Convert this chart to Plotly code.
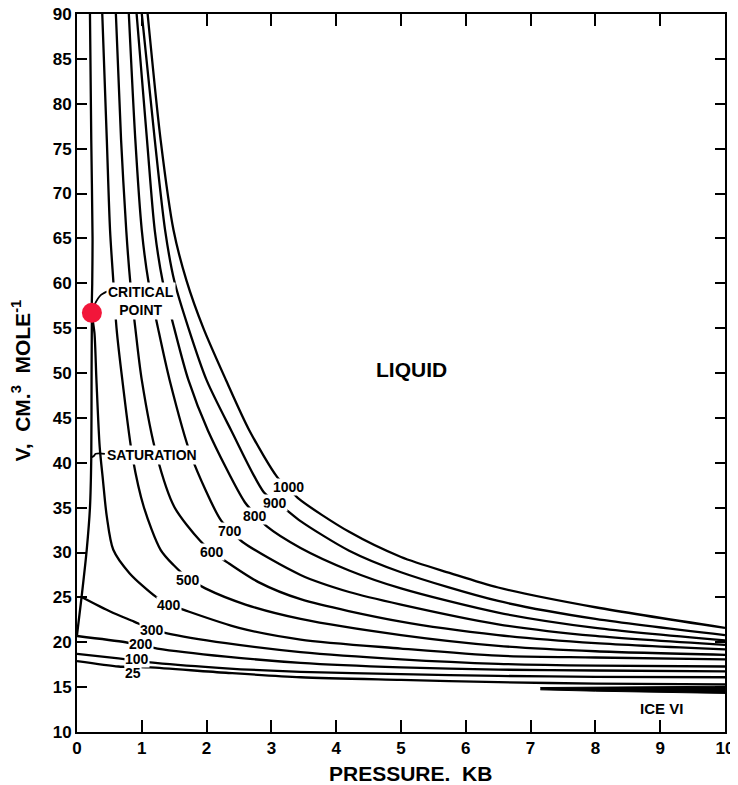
import plotly.graph_objects as go

# ---------------- data ----------------
x_ticks = [0, 1, 2, 3, 4, 5, 6, 7, 8, 9, 10]
y_ticks = [10, 15, 20, 25, 30, 35, 40, 45, 50, 55, 60, 65, 70, 75, 80, 85, 90]

sat_p = [0.0, 0.07, 0.15, 0.20, 0.22, 0.225, 0.23]
sat_v = [20.8, 25.0, 30.3, 35.0, 40.5, 50.0, 56.7]

t1000_p = [1.09, 1.29, 1.49, 1.69, 1.95, 2.30, 2.66, 3.09, 3.26, 3.42, 4.2, 5.0, 5.76, 6.5, 8.0, 10.0]
t1000_v = [90.0, 76.0, 65.9, 60.3, 55.0, 49.2, 43.6, 38.4, 37.2, 36.0, 32.3, 29.5, 27.7, 26.1, 23.9, 21.6]

t900_p = [1.00, 1.20, 1.36, 1.50, 1.72, 2.00, 2.38, 2.88, 3.06, 3.24, 3.45, 4.2, 5.0, 6.5, 8.0, 10.0]
t900_v = [90.0, 76.0, 65.9, 60.3, 55.0, 49.2, 43.6, 36.75, 35.7, 34.7, 33.5, 30.2, 27.8, 24.6, 22.6, 20.8]

t800_p = [0.92, 1.08, 1.20, 1.32, 1.50, 1.72, 2.02, 2.59, 2.76, 2.93, 3.45, 4.2, 5.0, 6.5, 8.0, 10.0]
t800_v = [90.0, 76.0, 65.9, 60.3, 55.0, 49.2, 43.6, 35.6, 34.2, 32.9, 30.5, 28.0, 26.0, 23.3, 21.6, 20.2]

t700_p = [0.80, 0.90, 1.00, 1.10, 1.25, 1.43, 1.76, 2.22, 2.38, 2.55, 3.45, 4.2, 5.0, 6.5, 8.0, 10.0]
t700_v = [90.0, 76.0, 65.9, 60.3, 55.0, 49.2, 40.8, 33.6, 32.4, 31.2, 27.5, 25.6, 24.2, 22.0, 20.7, 19.7]

t600_p = [0.60, 0.68, 0.76, 0.82, 0.90, 1.00, 1.23, 1.50, 1.90, 2.10, 2.34, 2.80, 3.45, 5.0, 6.5, 8.0, 10.0]
t600_v = [90.0, 76.0, 65.9, 60.3, 55.0, 49.2, 40.8, 35.1, 31.3, 30.0, 28.8, 26.7, 24.8, 22.3, 20.8, 19.9, 19.2]

t500_p = [0.39, 0.46, 0.51, 0.56, 0.61, 0.70, 0.86, 1.03, 1.29, 1.49, 1.72, 1.98, 2.60, 3.45, 5.0, 6.5, 8.0, 10.0]
t500_v = [90.0, 76.0, 65.9, 60.3, 55.0, 49.2, 40.5, 35.1, 30.3, 28.6, 27.1, 26.0, 24.2, 22.6, 20.8, 19.6, 19.0, 18.6]

t400_p = [0.20, 0.22, 0.24, 0.235, 0.23, 0.27, 0.30, 0.35, 0.40, 0.46, 0.56, 0.81, 1.22, 1.42, 1.65, 2.50, 3.45, 5.0, 6.5, 8.0, 10.0]
t400_v = [90.0, 76.0, 65.0, 60.0, 56.7, 54.4, 49.2, 41.8, 38.1, 34.0, 30.3, 27.7, 25.05, 24.2, 23.6, 21.6, 20.3, 19.3, 18.5, 18.3, 18.1]

t300_p = [0.07, 0.52, 0.88, 1.14, 1.39, 2.30, 3.45, 5.0, 6.5, 8.0, 10.0]
t300_v = [25.05, 23.4, 22.3, 21.5, 21.0, 19.9, 18.9, 18.1, 17.6, 17.4, 17.3]

t200_p = [0.0, 0.75, 1.00, 1.24, 2.30, 3.45, 5.0, 6.5, 8.0, 10.0]
t200_v = [20.7, 20.0, 19.65, 19.3, 18.4, 17.7, 17.2, 16.95, 16.85, 16.75]

t100_p = [0.0, 0.64, 0.93, 1.21, 2.30, 3.45, 5.0, 6.5, 8.0, 10.0]
t100_v = [18.7, 18.2, 17.95, 17.7, 17.1, 16.7, 16.45, 16.25, 16.15, 16.1]

t25_p = [0.0, 0.64, 0.90, 1.13, 2.30, 3.45, 5.0, 6.5, 8.0, 10.0]
t25_v = [17.9, 17.3, 17.25, 17.2, 16.6, 16.1, 15.8, 15.55, 15.4, 15.3]

ice_p = [7.15, 8.0, 9.0, 10.0, 10.0, 9.0, 8.0, 7.15]
ice_v = [14.95, 15.0, 15.05, 15.1, 14.3, 14.4, 14.55, 14.7]

critical_p = [0.23]
critical_v = [56.7]
crit_leader_p = [0.27, 0.37, 0.54]
crit_leader_v = [57.6, 58.7, 59.3]
sat_leader_p = [0.22, 0.26, 0.29, 0.43]
sat_leader_v = [40.6, 40.75, 41.0, 41.0]

iso_labels = ["1000", "900", "800", "700", "600", "500", "400", "300", "200", "100", "25"]
iso_label_p = [3.27, 3.06, 2.74, 2.36, 2.08, 1.71, 1.42, 1.15, 0.99, 0.93, 0.86]
iso_label_v = [37.3, 35.55, 34.05, 32.4, 30.1, 26.9, 24.15, 21.35, 19.75, 18.1, 16.55]

text_labels = ["LIQUID", "CRITICAL<br>POINT", "SATURATION", "ICE VI"]
text_p = [5.16, 0.98, 1.15, 9.02]
text_v = [50.4, 58.05, 40.85, 12.6]
text_sizes = [21, 14, 14, 15]

x_title = "PRESSURE.  KB"
y_title = "V,  CM.<sup>3</sup>  MOLE<sup>-1</sup>"

# ---------------- figure ----------------
FONT = "Liberation Sans, Arial, sans-serif"
fig = go.Figure()

curves = [(sat_p, sat_v), (t1000_p, t1000_v), (t900_p, t900_v), (t800_p, t800_v),
          (t700_p, t700_v), (t600_p, t600_v), (t500_p, t500_v), (t400_p, t400_v),
          (t300_p, t300_v), (t200_p, t200_v), (t100_p, t100_v), (t25_p, t25_v)]
for px, pv in curves:
    fig.add_trace(go.Scatter(x=px, y=pv, mode="lines",
                             line=dict(color="black", width=2.3, shape="spline", smoothing=0.8),
                             hoverinfo="skip", showlegend=False))

fig.add_trace(go.Scatter(x=ice_p, y=ice_v, mode="lines", fill="toself",
                         fillcolor="black", line=dict(color="black", width=1),
                         hoverinfo="skip", showlegend=False))

for px, pv in [(crit_leader_p, crit_leader_v), (sat_leader_p, sat_leader_v)]:
    fig.add_trace(go.Scatter(x=px, y=pv, mode="lines",
                             line=dict(color="black", width=1.8, shape="spline"),
                             hoverinfo="skip", showlegend=False))

fig.add_trace(go.Scatter(x=critical_p, y=critical_v, mode="markers",
                         marker=dict(color="#f2163a", size=20, line=dict(width=0)),
                         hoverinfo="skip", showlegend=False))

for t, px, pv in zip(iso_labels, iso_label_p, iso_label_v):
    fig.add_annotation(x=px, y=pv, text=t, showarrow=False, bgcolor="white",
                       borderpad=0, font=dict(family=FONT, size=14, color="black", weight="bold"))

for t, px, pv, s in zip(text_labels, text_p, text_v, text_sizes):
    fig.add_annotation(x=px, y=pv, text=t, showarrow=False,
                       bgcolor="white" if t != "LIQUID" else "rgba(0,0,0,0)",
                       borderpad=1, align="center",
                       font=dict(family=FONT, size=s, color="black", weight="bold"))

# axis titles placed as paper annotations
fig.add_annotation(xref="paper", yref="paper", x=0.515, y=-0.058, text=x_title,
                   showarrow=False, xanchor="center", yanchor="middle",
                   font=dict(family=FONT, size=21, color="black", weight="bold"))
fig.add_annotation(xref="paper", yref="paper", x=-0.086, y=0.49, text=y_title,
                   showarrow=False, textangle=-90, xanchor="center", yanchor="middle",
                   font=dict(family=FONT, size=21, color="black", weight="bold"))

# page body has an 8px margin, so the figure is sized to fit the 738x785 window
fig.update_layout(
    width=730, height=777,
    margin=dict(l=69, r=13, t=6, b=53),
    plot_bgcolor="white", paper_bgcolor="white",
    font=dict(family=FONT, color="black"),
)
fig.update_xaxes(range=[0, 10], tickvals=x_ticks, ticktext=[str(v) for v in x_ticks],
                 ticks="inside", ticklen=12, tickwidth=2, tickcolor="black",
                 showline=True, linewidth=2, linecolor="black", mirror="ticks",
                 showgrid=False, zeroline=False, automargin=False,
                 ticklabeloverflow="allow",
                 tickfont=dict(family=FONT, size=17, weight="bold"))
fig.update_yaxes(range=[10, 90], tickvals=y_ticks, ticktext=[str(v) for v in y_ticks],
                 ticks="inside", ticklen=10, tickwidth=2, tickcolor="black",
                 showline=True, linewidth=2, linecolor="black", mirror="ticks",
                 showgrid=False, zeroline=False, automargin=False,
                 ticklabeloverflow="allow",
                 tickfont=dict(family=FONT, size=17, weight="bold"))

fig.write_html("out.html")
